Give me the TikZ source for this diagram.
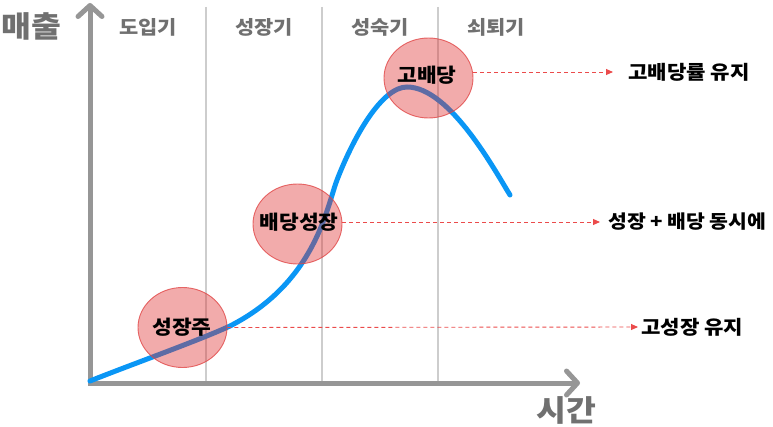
\documentclass[tikz,border=0pt]{standalone}
\usepackage{fontspec}
\setmainfont{Noto Sans CJK KR}[FakeStretch=1.1]
\usetikzlibrary{arrows.meta,shapes.geometric}
\definecolor{axisgray}{RGB}{150,150,150}
\definecolor{textgray}{RGB}{112,112,112}
\definecolor{sepgray}{RGB}{205,205,205}
\definecolor{curveblue}{RGB}{10,150,245}
\definecolor{circfill}{RGB}{222,45,45}
\definecolor{circline}{RGB}{225,70,70}
\definecolor{dashred}{RGB}{235,75,75}
\tikzset{
  axisline/.style={draw=axisgray, line width=5pt, -{Straight Barb[length=11pt,width=24pt,round]}},
  sepline/.style={draw=sepgray, line width=1.3pt},
  phase/.style={text=textgray, font=\bfseries\fontsize{19}{21}\selectfont, inner sep=0pt},
  axislabel/.style={text=textgray, font=\bfseries\fontsize{29.5}{31}\selectfont, inner sep=0pt},
  stage/.style={ellipse, minimum width=89pt, minimum height=80pt, inner sep=0pt,
    fill=circfill, fill opacity=0.4, draw=circline, draw opacity=0.8, line width=0.9pt},
  stagetext/.style={inner sep=0pt, font=\bfseries\fontsize{19.5}{21}\selectfont},
  outcome/.style={anchor=west, inner sep=0pt, font=\bfseries\fontsize{19.2}{21}\selectfont},
  outcomesmall/.style={outcome, font=\bfseries\fontsize{18.6}{21}\selectfont},
  dasharrow/.style={draw=dashred, line width=0.9pt, dash pattern=on 4pt off 3pt,
    -{Triangle[length=7pt,width=6pt]}},
  curve/.style={draw=curveblue, line width=5pt, line cap=round}
}
\begin{document}
\begin{tikzpicture}[x=1pt,y=-1pt]
\useasboundingbox (0,0) rectangle (773,427);
% separators
\coordinate (s1t) at (206,7); \coordinate (s1b) at (206,383);
\coordinate (s2t) at (322,7); \coordinate (s2b) at (322,383);
\coordinate (s3t) at (438,7); \coordinate (s3b) at (438,383);
\draw[sepline] (s1t) -- (s1b);
\draw[sepline] (s2t) -- (s2b);
\draw[sepline] (s3t) -- (s3b);
% axes
\coordinate (o) at (90,383);
\coordinate (o2) at (88,383);
\coordinate (ytop) at (90,3);
\coordinate (xend) at (580,383);
\draw[axisline] (o) -- (ytop);
\draw[axisline] (o2) -- (xend);
\node[axislabel] (ylab) at (31,26) {매출};
\node[axislabel] (xlab) at (566,410) {시간};
% phases
\node[phase] (p1) at (148,27) {도입기};
\node[phase] (p2) at (264,27) {성장기};
\node[phase] (p3) at (380,27) {성숙기};
\node[phase] (p4) at (496,27) {쇠퇴기};
% curve
\draw[curve] (90,381) .. controls (130,365) and (200,340) .. (230,326)
  .. controls (316,282) and (326.8,206.6) .. (337,180)
  .. controls (354,136) and (382,87) .. (407,87)
  .. controls (450,87) and (496,172.6) .. (510,195);
% stage circles
\node[stage] (c1) at (182.5,327.5) {};
\node[stage] (c2) at (297.5,224) {};
\node[stage] (c3) at (428.5,78) {};
\node[stagetext] (t1) at (182,327) {성장주};
\node[stagetext] (t2) at (299,222) {배당성장};
\node[stagetext] (t3) at (427,75) {고배당};
% outcome labels
\node[outcome] (l1) at (641,327) {고성장 유지};
\node[outcomesmall] (l2) at (608,222) {성장 + 배당 동시에};
\node[outcome] (l3) at (628,72) {고배당률 유지};
\draw[dasharrow, shorten >=3pt] (c1.east) -- (l1.west);
\draw[dasharrow, shorten >=8pt] (c2.east |- l2.west) -- (l2.west);
\draw[dasharrow, shorten >=15pt] (c3.east |- l3.west) -- (l3.west);
\end{tikzpicture}
\end{document}
